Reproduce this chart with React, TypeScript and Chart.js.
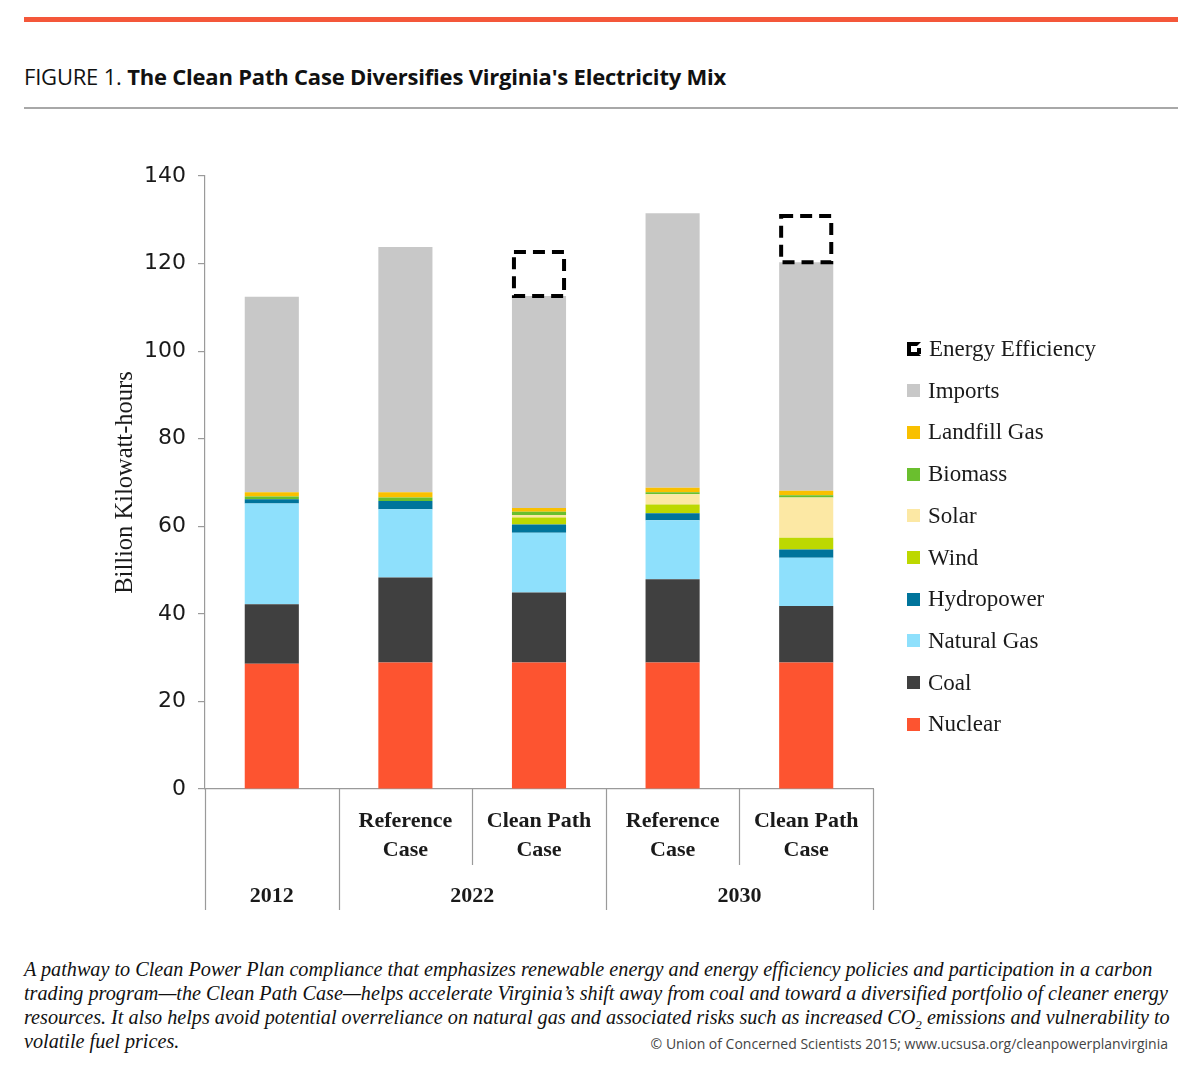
import React, { useEffect, useRef } from 'react';
import { Chart, registerables } from 'chart.js';

Chart.register(...registerables);

// ---- Data ----
const categories = ['2012', '2022 Reference Case', '2022 Clean Path Case', '2030 Reference Case', '2030 Clean Path Case'];
const subLabels: string[][] = [[], ['Reference', 'Case'], ['Clean Path', 'Case'], ['Reference', 'Case'], ['Clean Path', 'Case']];
const groupLabels = ['2012', '2022', '2030'];
const groupSpans = [1, 2, 2];
const yTicks = [0, 20, 40, 60, 80, 100, 120, 140];

const nuclear = [28.6, 28.9, 28.9, 28.9, 28.9];
const coal = [13.6, 19.4, 16.0, 19.0, 12.9];
const naturalGas = [23.0, 15.6, 13.6, 13.5, 11.0];
const hydropower = [1.0, 1.9, 1.9, 1.6, 1.9];
const wind = [0, 0, 1.6, 2.0, 2.7];
const solar = [0, 0, 0.6, 2.3, 9.2];
const biomass = [0.6, 0.8, 0.7, 0.5, 0.5];
const landfillGas = [1.0, 1.2, 0.9, 1.0, 1.0];
const imports = [44.6, 56.0, 48.4, 62.7, 52.2];
const energyEfficiency = [0, 0, 10.5, 0, 11.0];

const seriesNames = ['Nuclear', 'Coal', 'Natural Gas', 'Hydropower', 'Wind', 'Solar', 'Biomass', 'Landfill Gas', 'Imports', 'Energy Efficiency'];
const seriesValues = [nuclear, coal, naturalGas, hydropower, wind, solar, biomass, landfillGas, imports, energyEfficiency];
const seriesColors = ['#FD5430', '#404040', '#8EE0FC', '#00749B', '#BDD800', '#FCE8A4', '#6ABF2E', '#F9C000', '#C8C8C8', 'rgba(0,0,0,0)'];

const SERIF = '"Liberation Serif", "DejaVu Serif", serif';
const AXIS_GRAY = '#9a9a9a';

const eePlugin = {
  id: 'eeDashed',
  afterDatasetsDraw(chart: any) {
    const idx = seriesNames.indexOf('Energy Efficiency');
    const meta = chart.getDatasetMeta(idx);
    const ctx = chart.ctx;
    ctx.save();
    ctx.strokeStyle = '#000';
    ctx.lineWidth = 4;
    ctx.setLineDash([12, 7]);
    meta.data.forEach((el: any, i: number) => {
      if (!energyEfficiency[i]) return;
      const w = el.width;
      const x = el.x - w / 2 + 2;
      const top = Math.min(el.y, el.base) + 2;
      const h = Math.abs(el.base - el.y) - 2;
      ctx.strokeRect(x, top, w - 4, h);
    });
    ctx.restore();
  },
};

const xLabelPlugin = {
  id: 'xGroupLabels',
  afterDraw(chart: any) {
    const ctx = chart.ctx;
    const xs = chart.scales.x;
    const area = chart.chartArea;
    const bottom = area.bottom;
    const n = categories.length;
    const centers = categories.map((_, i) => xs.getPixelForValue(i));
    const edges: number[] = [area.left];
    for (let i = 0; i < n - 1; i++) edges.push((centers[i] + centers[i + 1]) / 2);
    edges.push(area.right);

    ctx.save();
    ctx.strokeStyle = AXIS_GRAY;
    ctx.lineWidth = 1.2;
    const groupEdgeIdx: number[] = [0];
    let acc = 0;
    groupSpans.forEach((s) => { acc += s; groupEdgeIdx.push(acc); });
    groupEdgeIdx.forEach((gi) => {
      const x = Math.round(edges[gi]) + 0.5;
      ctx.beginPath();
      ctx.moveTo(x, bottom);
      ctx.lineTo(x, bottom + 121);
      ctx.stroke();
    });
    for (let i = 1; i < n; i++) {
      if (groupEdgeIdx.includes(i)) continue;
      const x = Math.round(edges[i]) + 0.5;
      ctx.beginPath();
      ctx.moveTo(x, bottom);
      ctx.lineTo(x, bottom + 76);
      ctx.stroke();
    }
    ctx.fillStyle = '#1a1a1a';
    ctx.font = `bold 22px ${SERIF}`;
    ctx.textAlign = 'center';
    ctx.textBaseline = 'middle';
    subLabels.forEach((lines, i) => {
      lines.forEach((t, j) => ctx.fillText(t, centers[i], bottom + 32 + j * 29));
    });
    let start = 0;
    groupLabels.forEach((g, gi) => {
      const end = start + groupSpans[gi];
      const cx = (edges[start] + edges[end]) / 2;
      ctx.fillText(g, cx, bottom + 107);
      start = end;
    });
    ctx.restore();
  },
};

function ChartCanvas() {
  const ref = useRef<HTMLCanvasElement | null>(null);
  useEffect(() => {
    if (!ref.current) return;
    const chart = new Chart(ref.current, {
      type: 'bar',
      data: {
        labels: categories,
        datasets: seriesNames.map((name, i) => ({
          label: name,
          data: seriesValues[i],
          backgroundColor: seriesColors[i],
          borderWidth: 0,
          categoryPercentage: 1,
          barPercentage: 0.405,
        })),
      },
      options: {
        animation: false,
        responsive: false,
        devicePixelRatio: 1,
        layout: { padding: { left: 106, top: 36, right: 327, bottom: 151 } },
        plugins: { legend: { display: false }, tooltip: { enabled: false } },
        scales: {
          x: {
            stacked: true,
            ticks: { display: false },
            grid: { display: false },
            border: { display: true, color: AXIS_GRAY, width: 1.2 },
            afterFit: (s: any) => { s.height = 0; },
          },
          y: {
            stacked: true,
            min: 0,
            max: 140,
            afterBuildTicks: (s: any) => { s.ticks = yTicks.map((v) => ({ value: v })); },
            ticks: {
              color: '#1a1a1a',
              padding: 12,
              font: { family: '"DejaVu Sans", sans-serif', size: 22 },
            },
            grid: { drawOnChartArea: false, drawTicks: true, tickLength: 7, color: AXIS_GRAY, lineWidth: 1.2 },
            border: { display: true, color: AXIS_GRAY, width: 1.2 },
            title: {
              display: true,
              text: 'Billion Kilowatt-hours',
              color: '#1a1a1a',
              font: { family: SERIF, size: 24.5 },
              padding: { top: 5, bottom: 0 },
            },
            afterFit: (s: any) => { s.width = 99; },
          },
        },
      },
      plugins: [eePlugin, xLabelPlugin],
    });
    return () => chart.destroy();
  }, []);
  return <canvas ref={ref} width={1200} height={800} style={{ position: 'absolute', left: 0, top: 140, width: 1200, height: 800 }} />;
}

function LegendIcon({ i }: { i: number }) {
  if (seriesNames[i] === 'Energy Efficiency') {
    return (
      <div style={{ width: 14, height: 14, boxSizing: 'border-box', border: '4px solid #000', borderRightColor: 'transparent', position: 'relative' }}>
        <div style={{ position: 'absolute', right: -4, top: 2, width: 4, height: 6, background: '#000' }} />
      </div>
    );
  }
  return <div style={{ width: 13, height: 13, background: seriesColors[i] }} />;
}

export default function App() {
  const legendOrder = seriesNames.map((_, i) => i).reverse();
  return (
    <div style={{ position: 'absolute', left: 0, top: 0, width: 1200, height: 1089, background: '#fff', overflow: 'hidden' }}>
      <div style={{ position: 'absolute', left: 24, top: 17, width: 1154, height: 5, background: '#F4573A' }} />
      <div style={{ position: 'absolute', left: 24, top: 61, whiteSpace: 'nowrap', fontFamily: '"Open Sans", sans-serif', fontSize: 22, lineHeight: '30px', color: '#111', letterSpacing: -0.2 }}>
        <span>FIGURE 1. </span>
        <span style={{ fontWeight: 'bold' }}>The Clean Path Case Diversifies Virginia's Electricity Mix</span>
      </div>
      <div style={{ position: 'absolute', left: 24, top: 107, width: 1154, height: 2, background: '#a8a8a8' }} />
      <ChartCanvas />
      {legendOrder.map((i, k) => (
        <div key={seriesNames[i]} style={{ position: 'absolute', left: 907, top: 349 + k * 41.7 - 14, height: 28, display: 'flex', alignItems: 'center', whiteSpace: 'nowrap' }}>
          <LegendIcon i={i} />
          <span style={{ marginLeft: 8, fontFamily: SERIF, fontSize: 23, color: '#1a1a1a' }}>{seriesNames[i]}</span>
        </div>
      ))}
      <div style={{ position: 'absolute', left: 24, top: 957, width: 1160, fontFamily: SERIF, fontStyle: 'italic', fontSize: 20.2, lineHeight: '24px', color: '#111', whiteSpace: 'nowrap' }}>
        <div>A pathway to Clean Power Plan compliance that emphasizes renewable energy and energy efficiency policies and participation in a carbon</div>
        <div>trading program—the Clean Path Case—helps accelerate Virginia’s shift away from coal and toward a diversified portfolio of cleaner energy</div>
        <div>resources. It also helps avoid potential overreliance on natural gas and associated risks such as increased CO<sub style={{ fontSize: 13, lineHeight: 0 }}>2</sub> emissions and vulnerability to</div>
        <div>volatile fuel prices.</div>
      </div>
      <div style={{ position: 'absolute', right: 32, top: 1034, fontFamily: '"Open Sans", sans-serif', fontSize: 14, color: '#444', whiteSpace: 'nowrap' }}>
        © Union of Concerned Scientists 2015; www.ucsusa.org/cleanpowerplanvirginia
      </div>
    </div>
  );
}
